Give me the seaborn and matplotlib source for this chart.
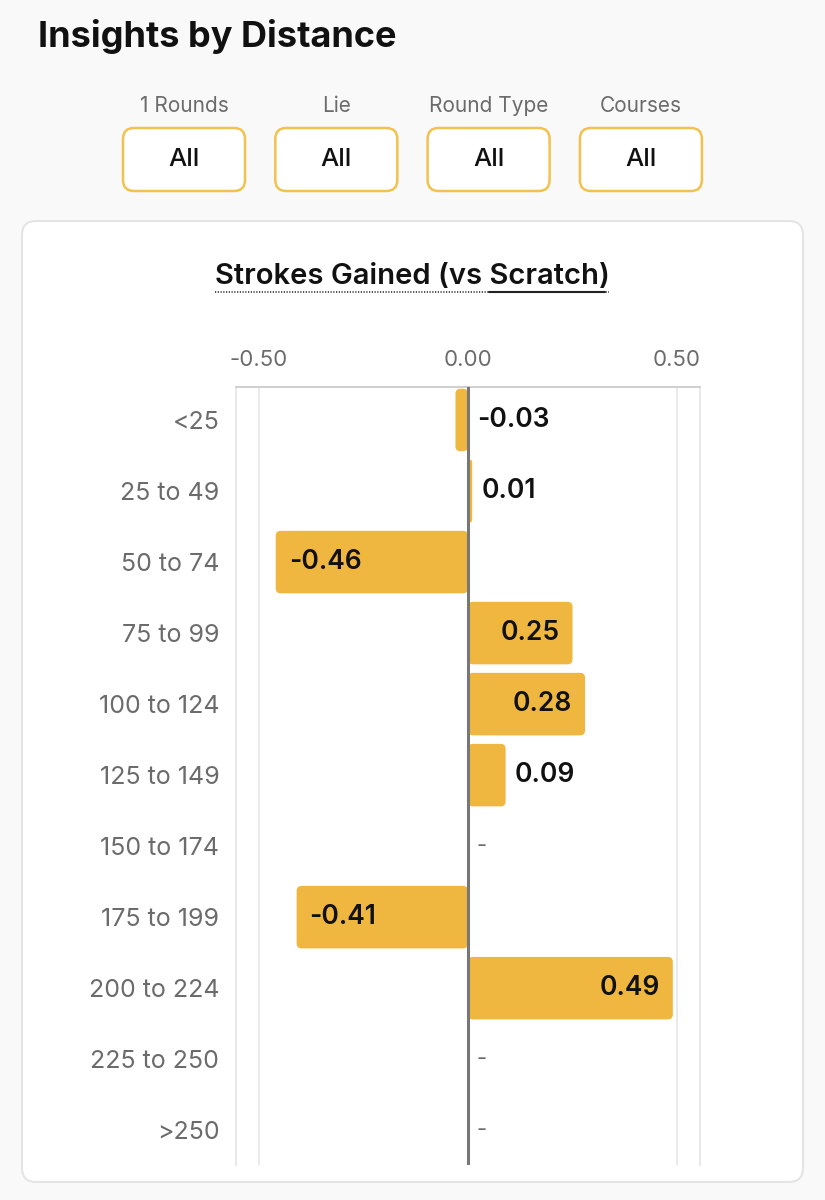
import numpy as np
import pandas as pd
import matplotlib
matplotlib.use("Agg")
import matplotlib.pyplot as plt
from matplotlib.patches import FancyBboxPatch
import seaborn as sns

# data (None = no data, shown as "-")
distances = ["<25", "25 to 49", "50 to 74", "75 to 99", "100 to 124", "125 to 149",
             "150 to 174", "175 to 199", "200 to 224", "225 to 250", ">250"]
strokes_gained = [-0.03, 0.01, -0.46, 0.25, 0.28, 0.09, None, -0.41, 0.49, None, None]
xticks = [-0.5, 0.0, 0.5]
xtick_labels = ["-0.50", "0.00", "0.50"]
filter_names = ["1 Rounds", "Lie", "Round Type", "Courses"]
filter_values = ["All", "All", "All", "All"]

BAR = "#F0B740"
GOLD = "#F2C24F"
GRAY = "#6b6b6b"

sns.set_style("white")
plt.rcParams["font.family"] = ["Inter", "DejaVu Sans"]

W, H = 825, 1200
fig = plt.figure(figsize=(W / 100, H / 100), dpi=100)
fig.patch.set_facecolor("#f9f9f9")

# background layer in pixel coordinates
bg = fig.add_axes([0, 0, 1, 1], zorder=0)
bg.set_xlim(0, W)
bg.set_ylim(H, 0)
bg.axis("off")

bg.text(38, 36, "Insights by Distance", fontsize=26, fontweight="bold",
        color="#111111", ha="left", va="center")

for i, (name, val) in enumerate(zip(filter_names, filter_values)):
    cx = 184 + i * 152.3
    bg.text(cx, 106, name, fontsize=15, color=GRAY, ha="center", va="center")
    bg.add_patch(FancyBboxPatch((cx - 61, 128), 122, 63,
                                boxstyle="round,pad=0,rounding_size=11",
                                facecolor="white", edgecolor=GOLD, linewidth=1.8))
    bg.text(cx, 160, val, fontsize=18.5, fontweight="medium", color="#111111",
            ha="center", va="center")

# card
bg.add_patch(FancyBboxPatch((22, 221), 781, 961, boxstyle="round,pad=0,rounding_size=14",
                            facecolor="white", edgecolor="#e4e4e4", linewidth=1.5))

title = "Strokes Gained (vs Scratch)"
t = bg.text(412, 276, title, fontsize=21, fontweight="semibold", color="#111111",
            ha="center", va="center")
fig.canvas.draw()
r = fig.canvas.get_renderer()
tb = t.get_window_extent(r)
tmp = bg.text(0, 0, "Scratch)", fontsize=21, fontweight="semibold")
sw = tmp.get_window_extent(r).width
tmp.remove()
x0, x1 = tb.x0, tb.x1
bg.plot([x0, x1], [292, 292], color="#222222", lw=1.1, ls=(0, (0.8, 1.0)))
bg.plot([x1 - sw, x1 - 4], [292, 292], color="#222222", lw=1.5)

# main chart
ax = fig.add_axes([236 / W, 35 / H, 464 / W, 778 / H], zorder=1)
df = pd.DataFrame({"distance": distances, "sg": strokes_gained})
present = df.dropna()
sns.barplot(data=present, x="sg", y="distance", order=distances, color=BAR,
            saturation=1, width=0.88, orient="h", ax=ax)

x_per_px = 1.11 / 464
y_per_px = 10.955 / 778
ax.set_xlim(-0.555, 0.555)
ax.set_ylim(10.49, -0.465)

# round the bar corners
for p in list(ax.patches):
    x, y, w, h = p.get_x(), p.get_y(), p.get_width(), p.get_height()
    x, w = (x + w, -w) if w < 0 else (x, w)
    rr = min(5 * x_per_px, w / 2)
    ax.add_patch(FancyBboxPatch((x, y), w, h,
                                boxstyle=f"round,pad=0,rounding_size={rr}",
                                mutation_aspect=y_per_px / x_per_px,
                                facecolor=BAR, edgecolor="none", zorder=2))
    p.remove()

ax.axvline(0, color="#777777", lw=2.2, zorder=4)
for xv in (-0.5, 0.5):
    ax.axvline(xv, color="#e6e6e6", lw=1.2, zorder=0)

pad = 13 * x_per_px
opad = 9 * x_per_px
for i, v in enumerate(strokes_gained):
    if v is None:
        ax.text(opad, i, "-", fontsize=16, color=GRAY, ha="left", va="center", zorder=5)
    elif abs(v) >= 0.2:
        if v > 0:
            ax.text(v - pad, i, f"{v:.2f}", fontsize=19, fontweight="semibold",
                    color="#111111", ha="right", va="center", zorder=5)
        else:
            ax.text(v + pad, i, f"{v:.2f}", fontsize=19, fontweight="semibold",
                    color="#111111", ha="left", va="center", zorder=5)
    else:
        ax.text(max(v, 0) + opad, i, f"{v:.2f}", fontsize=19, fontweight="semibold",
                color="#111111", ha="left", va="center", zorder=5)

ax.set_xticks(xticks)
ax.set_xticklabels(xtick_labels)
ax.xaxis.tick_top()
ax.tick_params(axis="x", length=0, pad=12, labelsize=16, labelcolor=GRAY)
ax.tick_params(axis="y", length=0, pad=12, labelsize=18, labelcolor=GRAY)
ax.set_xlabel("")
ax.set_ylabel("")
ax.set_facecolor("white")
ax.spines["bottom"].set_visible(False)
ax.spines["top"].set_color("#cccccc")
ax.spines["left"].set_color("#e6e6e6")
ax.spines["right"].set_color("#e6e6e6")
for s in ("top", "left", "right"):
    ax.spines[s].set_linewidth(1.3)

fig.savefig("out.png", dpi=100, facecolor=fig.get_facecolor())
